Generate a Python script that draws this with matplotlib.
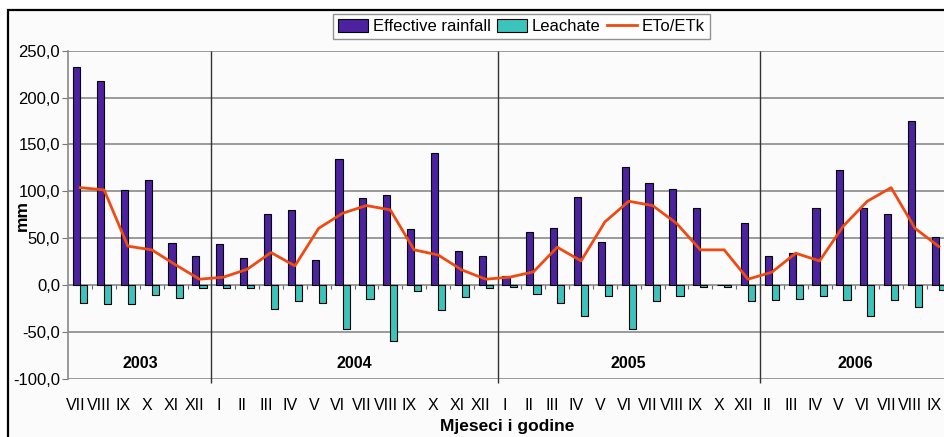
import matplotlib
matplotlib.use("Agg")
import matplotlib.pyplot as plt
from matplotlib.patches import Rectangle
import numpy as np

plt.rcParams['font.family'] = ['Liberation Sans', 'DejaVu Sans']

# months, grouped by year (2005 has no XI, 2006 starts at II)
months = ['VII', 'VIII', 'IX', 'X', 'XI', 'XII',
          'I', 'II', 'III', 'IV', 'V', 'VI', 'VII', 'VIII', 'IX', 'X', 'XI', 'XII',
          'I', 'II', 'III', 'IV', 'V', 'VI', 'VII', 'VIII', 'IX', 'X', 'XII',
          'II', 'III', 'IV', 'V', 'VI', 'VII', 'VIII', 'IX']
years = ['2003', '2004', '2005', '2006']
months_per_year = [6, 12, 11, 8]

rainfall = [232.3, 218.0, 101.6, 112.3, 45.1, 30.6,
            44.0, 29.1, 76.4, 80.3, 27.0, 134.6, 93.4, 96.3, 59.7, 141.4, 36.6, 30.6,
            10.0, 56.8, 60.7, 94.5, 46.5, 126.1, 108.7, 102.7, 82.0, 0.0, 66.4,
            31.6, 34.1, 82.0, 123.3, 82.0, 76.0, 175.5, 51.9]
leachate = [-19.5, -20.2, -20.2, -10.7, -13.5, -2.5,
            -2.5, -3.5, -25.2, -17.0, -19.5, -47.2, -14.6, -59.3, -6.0, -26.6, -12.1, -3.5,
            -1.4, -8.9, -19.5, -33.0, -11.0, -47.2, -16.7, -11.0, -2.1, -2.1, -16.7,
            -15.6, -14.2, -11.7, -15.6, -33.0, -15.6, -23.0, -4.6]
eto = [104.0, 101.6, 41.6, 37.7, 21.7, 6.4,
       8.5, 17.0, 34.8, 20.6, 60.7, 76.7, 84.9, 80.3, 37.7, 32.3, 16.3, 6.4,
       8.5, 14.2, 40.5, 25.9, 67.5, 89.5, 84.9, 66.0, 37.7, 37.7, 6.4,
       13.9, 34.1, 25.9, 63.2, 89.5, 104.0, 60.7, 41.2]

W, H = 944, 437
fig = plt.figure(figsize=(W / 100, H / 100), dpi=100)
fig.patch.set_facecolor('white')

# outer chart frame (right and bottom are cut off in the original)
frame = Rectangle((8 / W, -0.1), 1.2, 1.1 - 9.5 / H, transform=fig.transFigure,
                  facecolor='#fbfbfb', edgecolor='black', linewidth=1.6, zorder=-10)
fig.patches.append(frame)

left, top, bottom = 68.3, 50.7, 379.0
cat_w = 23.85
ax = fig.add_axes([left / W, 1 - bottom / H, (W - left) / W, (bottom - top) / H])
ax.set_facecolor('#fbfbfb')

x = np.arange(len(months))
w = 0.3
b1 = ax.bar(x - w / 2, rainfall, w, color='#4c22a0', edgecolor='black', linewidth=0.8,
            label='Effective rainfall', zorder=3)
b2 = ax.bar(x + w / 2, leachate, w, color='#3cc4bc', edgecolor='black', linewidth=0.8,
            label='Leachate', zorder=3)
l1, = ax.plot(x, eto, color='#f04a12', lw=2, label='ETo/ETk', zorder=4)

ax.set_ylim(-100, 250)
ax.set_xlim(-0.5, (W - left) / cat_w - 0.5)
yt = list(range(-100, 251, 50))
ax.set_yticks(yt)
ax.set_yticklabels([f"{v:.1f}".replace('.', ',') for v in yt], fontsize=12)
ax.yaxis.grid(True, color='#8a8a8a', lw=1.2, zorder=1)
ax.set_axisbelow(True)
ax.tick_params(axis='y', length=4, color='#777777', pad=2)
ax.set_xticks(x - 0.2)
ax.set_xticklabels(months, fontsize=11.5)
ax.tick_params(axis='x', length=0, pad=14)
for s in ['top', 'right', 'bottom']:
    ax.spines[s].set_visible(False)
ax.spines['left'].set_color('#8a8a8a')
ax.spines['left'].set_linewidth(1.2)

# small ticks on the zero line
ax.vlines(x[:-1] + 0.5, -4.3, 0, color='#666666', lw=0.8, zorder=2)

# year separators and labels
edges = np.cumsum(months_per_year)
start = 0
for yr, n in zip(years, months_per_year):
    ax.text(start + (n - 1) / 2, -84, yr, ha='center', va='center',
            fontsize=11.5, fontweight='bold')
    start += n
ax.vlines(edges[:-1] - 0.5, -104, 250, color='#333333', lw=1, clip_on=False, zorder=2)

fig.text(22 / W, 1 - 215 / H, 'mm', rotation=90, ha='center', va='center',
         fontsize=12.5, fontweight='bold')
fig.text(507.5 / W, 1 - 427 / H, 'Mjeseci i godine', ha='center', va='center',
         fontsize=12.5, fontweight='bold')

leg = fig.legend(handles=[b1, b2, l1], loc='center', bbox_to_anchor=(521.4 / W, 1 - 26.4 / H),
                 ncol=3, fontsize=12, frameon=True, fancybox=False, edgecolor='#777777',
                 borderpad=0.3, columnspacing=0.35, handletextpad=0.3, handlelength=1.8,
                 handleheight=0.8)
leg.get_frame().set_linewidth(1)
leg.get_frame().set_facecolor('white')

fig.savefig('out.png', dpi=100)
